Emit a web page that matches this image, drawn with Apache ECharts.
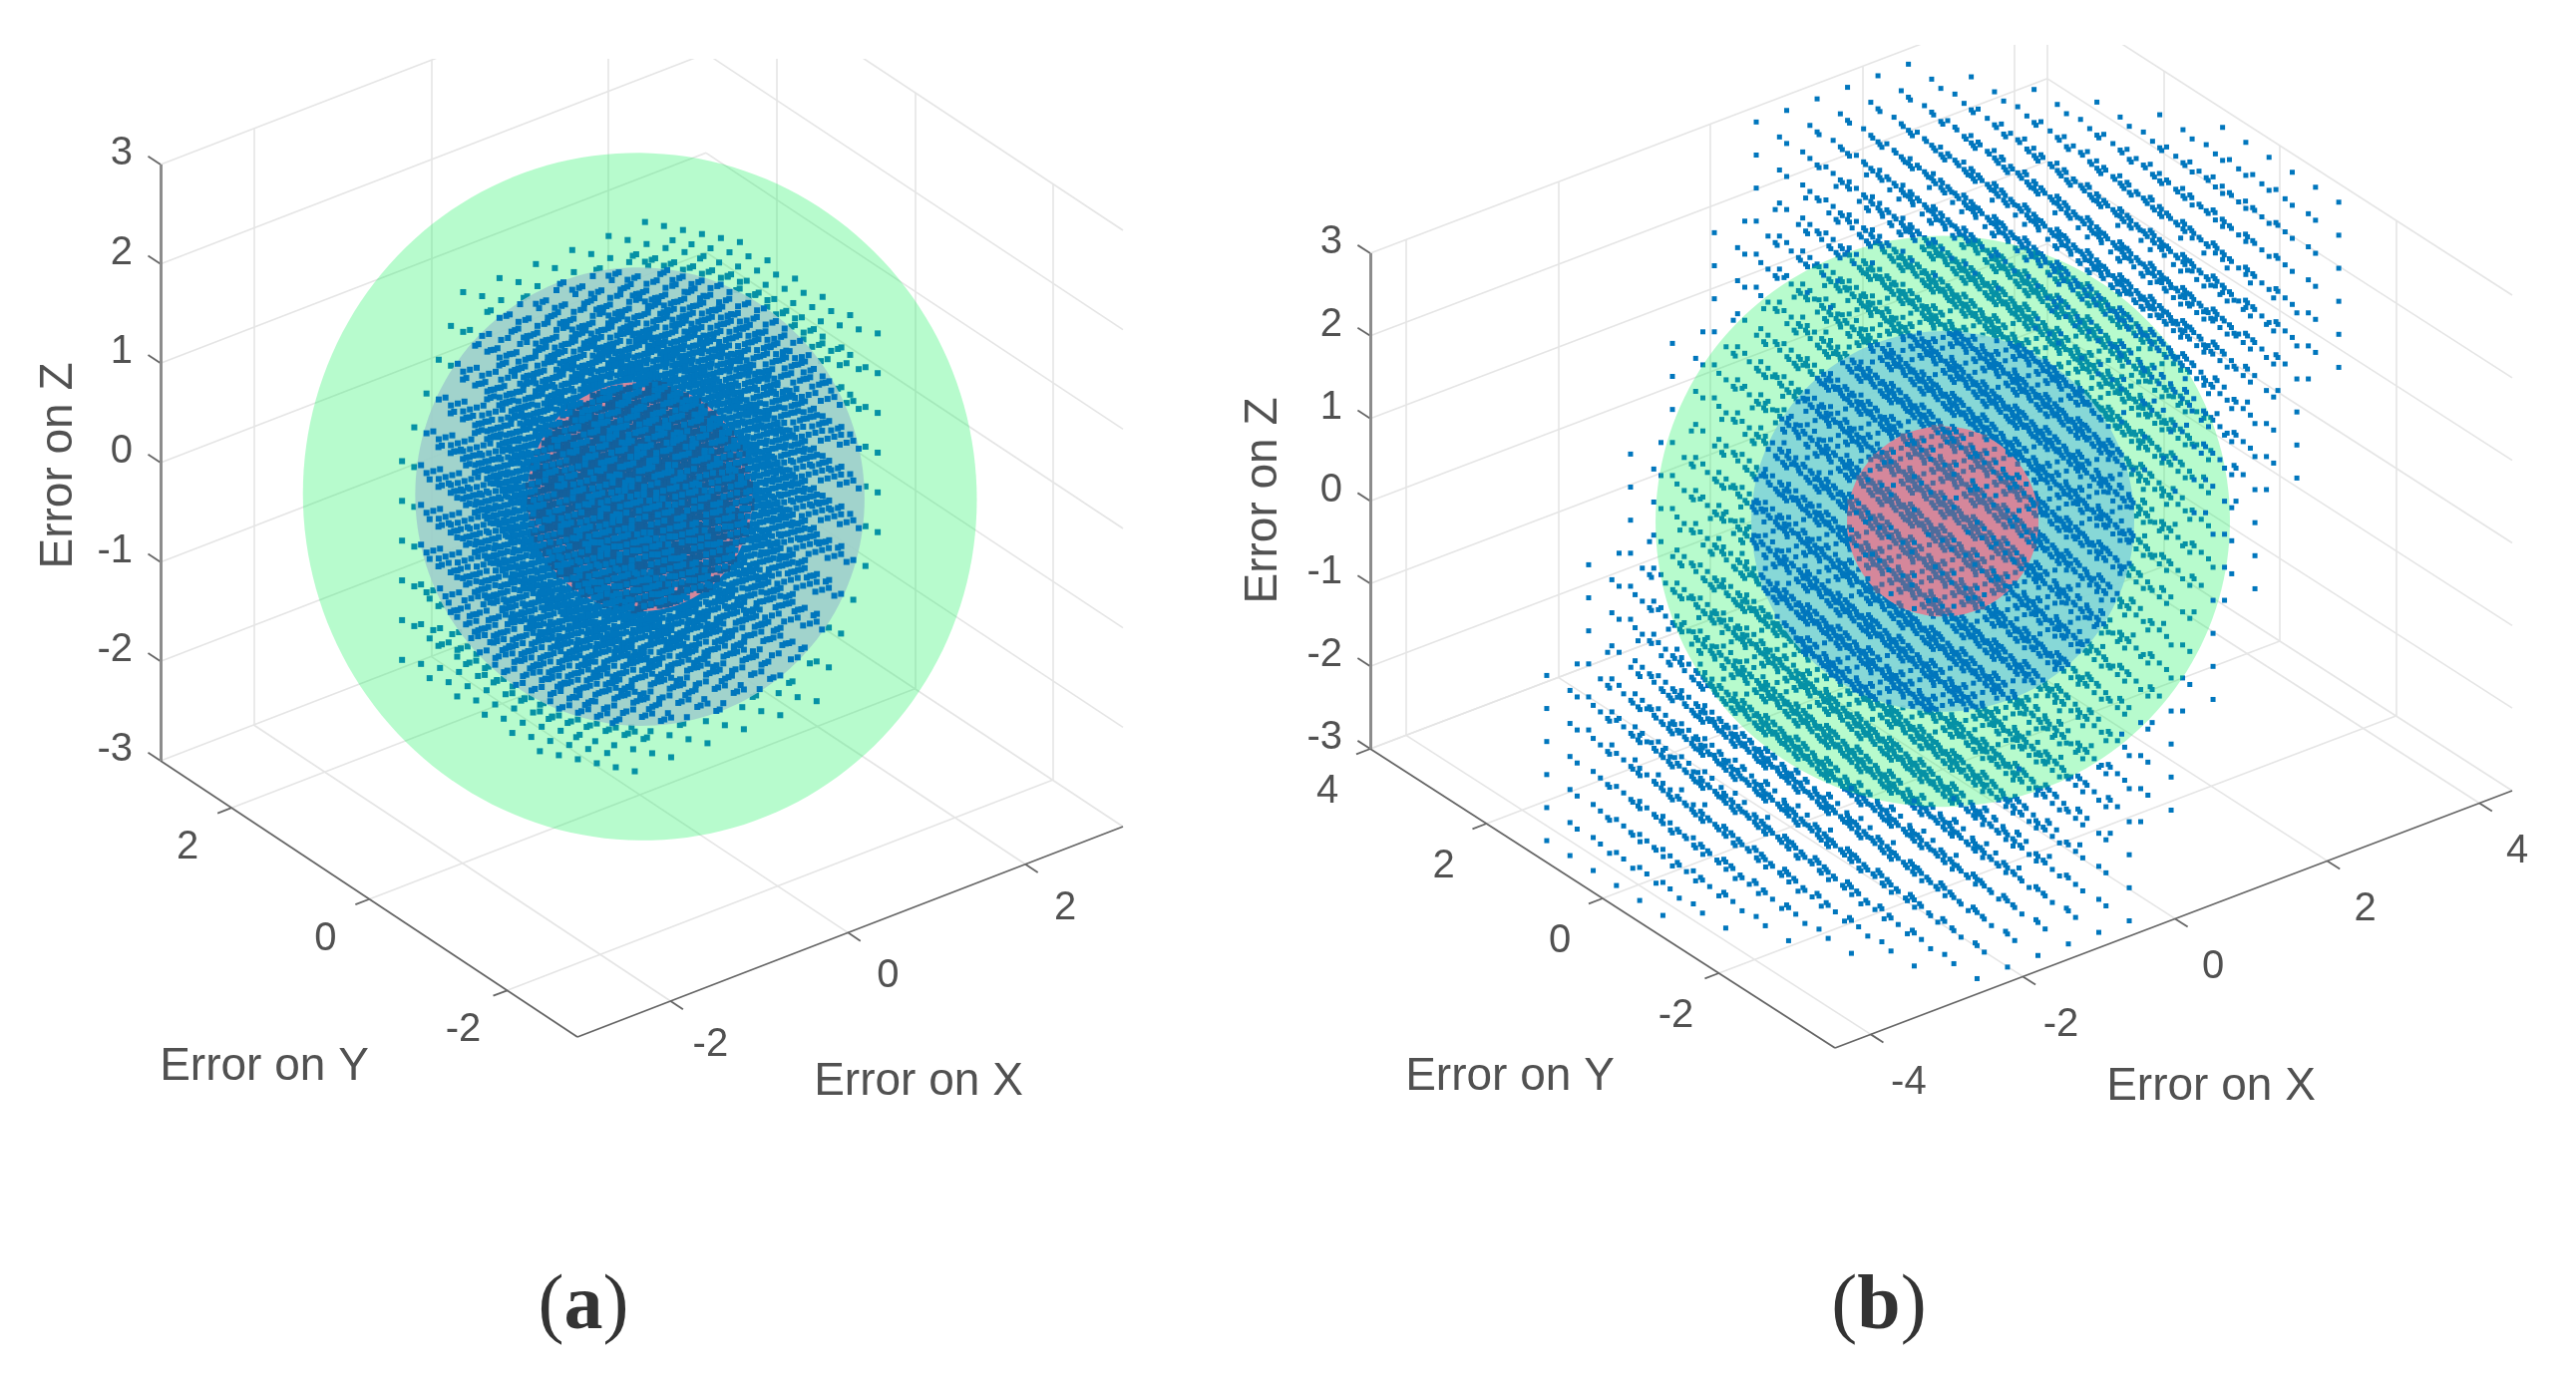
<!DOCTYPE html>
<html><head><meta charset="utf-8">
<style>html,body{margin:0;padding:0;background:#fff}#c{width:2583px;height:1384px}</style>
<script src="https://cdn.jsdelivr.net/npm/echarts@6/dist/echarts.min.js"></script>
</head><body><div id="c"></div>
<script>
// ---- values ----
const axisTitles = ['Error on X', 'Error on Y', 'Error on Z'];
const sphereRadii = [3, 2, 1];
const zTicks = [-3, -2, -1, 0, 1, 2, 3];
const xTicksA = [-2, 0, 2];
const yTicksA = [-2, 0, 2];
const xTicksB = [-4, -2, 0, 2, 4];
const yTicksB = [-2, 0, 2, 4];
const xLimA = [-3.05, 3.1];
const yLimA = [-3.02, 3.03];
const xLimB = [-4.47, 4.43];
const yLimB = [-4, 4];
const zLim = [-3, 3];
// error lattice: six levels along five directions (error units per level)
const levels = [-2.5, -1.5, -0.5, 0.5, 1.5, 2.5];
const stepsA = [[0.092, -0.157, 0], [0, -0.4, 0], [0, 0, -0.4], [-0.41, 0, 0], [-0.13, 0.01, -0.3]];
const stepsB = [[0.357, -0.614, 0], [0, -0.4, 0], [0, 0, -0.4], [-0.4, 0, 0], [-0.495, 0.073, -1.2]];

// ---- layout of the two 3-D boxes on the page ----
const panels = [
  {F:[579,1040], R:[1126,829], L:[161,763], zTop:165, xLim:xLimA, yLim:yLimA, xT:xTicksA, yT:yTicksA, steps:stepsA, dot:6,
   xOff:[40,44], yOff:[-44,40], zOff:[-28,-11], titleX:[921,1085], titleY:[265,1070], titleZ:[59,467],
   midFill:'rgba(158,206,204,0.9)', backInner:'#14609c', tag:'a', tagPos:[585,1312]},
  {F:[1840,1051], R:[2519,793], L:[1374,751], zTop:254, xLim:xLimB, yLim:yLimB, xT:xTicksB, yT:yTicksB, steps:stepsB, dot:5,
   xOff:[38,49], yOff:[-43,43], zOff:[-28,-11], titleX:[2217,1090], titleY:[1514,1080], titleZ:[1267,502],
   midFill:'rgba(130,212,216,0.9)', backInner:'#4f6c9c', tag:'b', tagPos:[1884,1312]}
];
const TEXT = '#262626', GRID = '#e5e5e5', AX = '#666666', ZAX = '#8c8c8c', BLUE = '#0076bd';
const FONT = '"Liberation Sans", Arial, sans-serif';

function build(p) {
  const xr = p.xLim[1]-p.xLim[0], yr = p.yLim[1]-p.yLim[0];
  const xv = [(p.R[0]-p.F[0])/xr, (p.R[1]-p.F[1])/xr];
  const yv = [(p.L[0]-p.F[0])/yr, (p.L[1]-p.F[1])/yr];
  const zv = [0, -(p.L[1]-p.zTop)/(zLim[1]-zLim[0])];
  const proj = (x,y,z) => [
    p.F[0] + (x-p.xLim[0])*xv[0] + (y-p.yLim[0])*yv[0] + (z-zLim[0])*zv[0],
    p.F[1] + (x-p.xLim[0])*xv[1] + (y-p.yLim[0])*yv[1] + (z-zLim[0])*zv[1]];
  // viewing direction in error space
  const r1=[xv[0],yv[0],zv[0]], r2=[xv[1],yv[1],zv[1]];
  let v=[r1[1]*r2[2]-r1[2]*r2[1], r1[2]*r2[0]-r1[0]*r2[2], r1[0]*r2[1]-r1[1]*r2[0]];
  const n=Math.hypot(...v); v=v.map(c=>c/n*(v[2]>0?1:-1));
  let e1=[v[1],-v[0],0]; const n1=Math.hypot(...e1); e1=e1.map(c=>c/n1);
  const e2=[v[1]*e1[2]-v[2]*e1[1], v[2]*e1[0]-v[0]*e1[2], v[0]*e1[1]-v[1]*e1[0]];

  // axes and grid
  const [x0,x1]=p.xLim,[y0,y1]=p.yLim,[z0,z1]=zLim;
  const seg=(a,b)=>({coords:[proj(...a),proj(...b)]});
  const grid=[], axes=[], zAxis=[seg([x0,y1,z0],[x0,y1,z1])];
  p.xT.forEach(t=>{grid.push(seg([t,y0,z0],[t,y1,z0]),seg([t,y1,z0],[t,y1,z1]));});
  p.yT.forEach(t=>{grid.push(seg([x0,t,z0],[x1,t,z0]),seg([x1,t,z0],[x1,t,z1]));});
  zTicks.forEach(t=>{grid.push(seg([x0,y1,t],[x1,y1,t]),seg([x1,y0,t],[x1,y1,t]));});
  axes.push(seg([x0,y0,z0],[x1,y0,z0]),seg([x0,y0,z0],[x0,y1,z0]));
  const tl=15;
  const xu=tl/Math.hypot(...yv), yu=tl/Math.hypot(...xv);
  p.xT.forEach(t=>axes.push(seg([t,y0,z0],[t,y0-xu,z0])));
  p.yT.forEach(t=>axes.push(seg([x0,t,z0],[x0-yu,t,z0])));
  zTicks.forEach(t=>axes.push(seg([x0,y1,t],[x0,y1+xu,t])));

  const lines=(data,color,width,z)=>({type:'lines',coordinateSystem:'cartesian2d',polyline:false,silent:true,z,
    data,lineStyle:{color,width,opacity:1},effect:{show:false},symbol:'none',animation:false});

  // lattice points, sorted by where they sit relative to the nested spheres
  const bins={outside:[],under:[],top:[],back:[],front:[]};
  const s=p.steps;
  for(const a of levels)for(const b of levels)for(const c of levels)for(const d of levels)for(const e of levels){
    const q=[0,1,2].map(k=>a*s[0][k]+b*s[1][k]+c*s[2][k]+d*s[3][k]+e*s[4][k]);
    const t=q[0]*v[0]+q[1]*v[1]+q[2]*v[2];
    const rho=Math.sqrt(Math.max(0,q[0]*q[0]+q[1]*q[1]+q[2]*q[2]-t*t));
    const pos=proj(...q);
    if(rho>=3) bins.outside.push(pos);
    else if(rho>=2){ (t<Math.sqrt(9-rho*rho)?bins.under:bins.top).push(pos); }
    else if(rho>=1) bins.top.push(pos);
    else (t<Math.sqrt(1-rho*rho)?bins.back:bins.front).push(pos);
  }
  const dots=(data,color,z)=>({type:'scatter',data,symbol:'rect',symbolSize:p.dot,itemStyle:{color,opacity:1},z,silent:true,
    large:false,progressive:0,animation:false,emphasis:{disabled:true}});

  const disc=(r,color,z)=>({type:'custom',coordinateSystem:'cartesian2d',z,silent:true,animation:false,
    data:[proj(0,0,0).concat(r)],
    renderItem:(params,api)=>{
      const R=api.value(2), pts=[];
      for(let i=0;i<180;i++){
        const a=i/180*2*Math.PI, ca=Math.cos(a)*R, sa=Math.sin(a)*R;
        pts.push(api.coord(proj(ca*e1[0]+sa*e2[0],ca*e1[1]+sa*e2[1],ca*e1[2]+sa*e2[2])));
      }
      return {type:'polygon',shape:{points:pts},style:{fill:color,stroke:null}};
    }});

  const lab=(pos,text,opt)=>({value:pos,name:text,label:Object.assign({show:true,position:'inside',formatter:'{b}',
     color:TEXT,fontFamily:FONT,fontSize:40,align:'center',verticalAlign:'middle'},opt||{})});
  const labels=[];
  p.xT.forEach(t=>{const q=proj(t,y0,z0);labels.push(lab([q[0]+p.xOff[0],q[1]+p.xOff[1]],String(t)));});
  p.yT.forEach(t=>{const q=proj(x0,t,z0);labels.push(lab([q[0]+p.yOff[0],q[1]+p.yOff[1]],String(t)));});
  zTicks.forEach(t=>{const q=proj(x0,y1,t);labels.push(lab([q[0]+p.zOff[0],q[1]+p.zOff[1]],String(t),{align:'right'}));});
  labels.push(lab(p.titleX,axisTitles[0],{fontSize:46}));
  labels.push(lab(p.titleY,axisTitles[1],{fontSize:46}));
  labels.push(lab(p.titleZ,axisTitles[2],{fontSize:46,rotate:90}));
  labels.push({value:p.tagPos,name:p.tag,label:{show:true,position:'inside',align:'center',verticalAlign:'middle',
    formatter:'{n|(}{m|'+p.tag+'}{n|)}',
    rich:{n:{fontFamily:'"Liberation Serif",serif',fontSize:78,color:'#000'},
          m:{fontFamily:'"Liberation Serif",serif',fontSize:78,fontWeight:'bold',color:'#000'}}}});

  return [
    lines(grid,GRID,1.6,1),
    lines(axes,AX,1.8,2),
    lines(zAxis,ZAX,3,2),
    dots(bins.outside,BLUE,3),
    dots(bins.under,'#0067c6',3),
    disc(sphereRadii[0],'rgba(18,242,88,0.30)',4),
    disc(sphereRadii[1],p.midFill,5),
    dots(bins.top,BLUE,6),
    disc(sphereRadii[2],'#d5879b',7),
    dots(bins.back,p.backInner,8),
    dots(bins.front,BLUE,9),
    {type:'scatter',data:labels,symbolSize:1,itemStyle:{color:'rgba(0,0,0,0)'},z:20,silent:true,animation:false,
     labelLayout:{hideOverlap:false}}
  ];
}

const chart = echarts.init(document.getElementById('c'), null, {renderer:'canvas'});
chart.setOption({
  animation:false,
  backgroundColor:'#ffffff',
  grid:{left:0,right:0,top:0,bottom:0},
  xAxis:{type:'value',min:0,max:2583,show:false},
  yAxis:{type:'value',min:0,max:1384,inverse:true,show:false},
  tooltip:{show:false},
  graphic:[
    {type:'rect',shape:{x:0,y:0,width:1240,height:59},style:{fill:'#fff'},z:100,silent:true},
    {type:'rect',shape:{x:1240,y:0,width:1343,height:45},style:{fill:'#fff'},z:100,silent:true}
  ],
  series:panels.flatMap(p=>build(p))
});
</script></body></html>
